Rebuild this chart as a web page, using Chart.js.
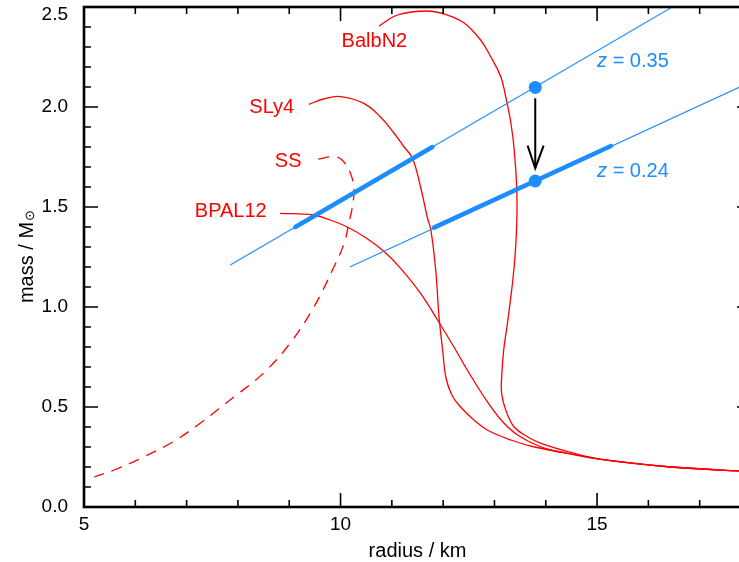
<!DOCTYPE html>
<html>
<head>
<meta charset="utf-8">
<title>Neutron star mass-radius</title>
<script src="https://cdn.jsdelivr.net/npm/chart.js@4.4.1/dist/chart.umd.min.js"></script>
<style>
  html, body { margin: 0; padding: 0; overflow: hidden; background: #fff; }
  #wrap { width: 760px; height: 562px; }
</style>
</head>
<body>
<div id="wrap"><canvas id="mr" width="760" height="562"></canvas></div>
<script>
// mass-radius curves, radius in km, mass in solar masses
const balbN2Radius = [10.75, 11.11, 11.69, 12.08, 12.41, 12.73, 12.93, 13.125, 13.22, 13.32, 13.385, 13.44, 13.40, 13.27, 13.18, 13.14, 13.14, 13.22, 13.385, 13.65, 13.91, 14.43, 15.08, 16.44, 18.0];
const balbN2Mass   = [2.405, 2.46, 2.48, 2.46, 2.42, 2.335, 2.25, 2.15, 2.05, 1.92, 1.785, 1.535, 1.25, 0.95, 0.785, 0.65, 0.568, 0.485, 0.40, 0.35, 0.318, 0.277, 0.238, 0.20, 0.177];

const sly4Radius = [9.38, 9.67, 10.0, 10.455, 10.78, 11.04, 11.24, 11.40, 11.56, 11.69, 11.76, 11.855, 11.92, 11.99, 12.06, 12.18, 12.34, 12.60, 12.86, 13.32, 13.78, 14.82, 15.08, 16.44, 18.0];
const sly4Mass   = [2.013, 2.04, 2.052, 2.018, 1.95, 1.87, 1.80, 1.745, 1.60, 1.45, 1.385, 1.185, 0.95, 0.785, 0.64, 0.555, 0.50, 0.435, 0.385, 0.335, 0.30, 0.25, 0.238, 0.20, 0.177];

const ssRadius = [9.57, 9.87, 10.03, 10.195, 10.26, 10.23, 10.16, 10.07, 9.87, 9.48, 9.02, 8.50, 7.92, 7.27, 6.74, 6.16, 5.64, 5.20];
const ssMass   = [1.74, 1.752, 1.735, 1.667, 1.585, 1.50, 1.418, 1.318, 1.20, 1.0, 0.82, 0.67, 0.55, 0.42, 0.327, 0.25, 0.19, 0.15];

const bpal12Radius = [8.82, 9.47, 9.80, 10.13, 10.50, 10.85, 11.17, 11.56, 11.89, 12.21, 12.47, 12.80, 13.13, 13.45, 13.91, 14.43, 15.08, 16.44, 18.0];
const bpal12Mass   = [1.468, 1.46, 1.435, 1.40, 1.345, 1.277, 1.193, 1.068, 0.935, 0.80, 0.685, 0.55, 0.435, 0.36, 0.30, 0.268, 0.238, 0.20, 0.177];

// constant-redshift lines and the allowed band on each
const z035Radius = [7.85, 17.0];
const z035Mass   = [1.21, 2.58];
const z035BandRadius = [9.12, 11.79];
const z035BandMass   = [1.40, 1.80];

const z024Radius = [10.18, 18.0];
const z024Mass   = [1.20, 2.126];
const z024BandRadius = [11.82, 15.27];
const z024BandMass   = [1.397, 1.805];

// measured star before and after the redshift change
const starRadius = [13.795, 13.795];
const starMass   = [2.098, 1.63];

const arrowRadius = [13.795, 13.795];
const arrowMass   = [2.044, 1.694];
const arrowHeadRadius = [13.646, 13.795, 13.958];
const arrowHeadMass   = [1.807, 1.694, 1.807];

// labels (anchored in data units)
const curveNames = ['BalbN2', 'SLy4', 'SS', 'BPAL12'];
const curveNameRadius = [10.66, 8.66, 8.98, 7.86];
const curveNameMass = [2.30, 1.97, 1.70, 1.45];

const redshifts = [0.35, 0.24];
const redshiftLabelRadius = [15.0, 15.0];
const redshiftLabelMass = [2.20, 1.65];

const RED = '#ff0000';
const BLUE = 'rgb(28,140,255)';
const FONT = "'Liberation Sans', Arial, Helvetica, sans-serif";

const toPoints = (xs, ys) => xs.map((x, i) => ({ x: x, y: ys[i] }));

const line = (xs, ys, color, width, extra) => Object.assign({
  data: toPoints(xs, ys),
  showLine: true,
  borderColor: color,
  borderWidth: width,
  pointRadius: 0,
  fill: false,
}, extra || {});

const frameTicks = {
  id: 'frameTicks',
  afterDatasetsDraw(chart) {
    const { ctx, chartArea: a, scales: { x, y } } = chart;
    ctx.save();
    ctx.strokeStyle = '#000';
    ctx.lineWidth = 1.6;
    ctx.beginPath();
    for (let v = 5; v <= 18; v++) {
      const px = x.getPixelForValue(v);
      const len = v % 5 === 0 ? 14 : 7;
      ctx.moveTo(px, a.bottom); ctx.lineTo(px, a.bottom - len);
      ctx.moveTo(px, a.top); ctx.lineTo(px, a.top + len);
    }
    for (let i = 0; i <= 25; i++) {
      const py = y.getPixelForValue(i / 10);
      const len = i % 5 === 0 ? 14 : 7;
      ctx.moveTo(a.left, py); ctx.lineTo(a.left + len, py);
      ctx.moveTo(a.right, py); ctx.lineTo(a.right - len, py);
    }
    ctx.stroke();
    ctx.lineWidth = 2.6;
    ctx.strokeRect(a.left, a.top, a.right - a.left, a.bottom - a.top);
    ctx.restore();
  },
  afterDraw(chart) {
    const { ctx, chartArea: a, scales: { x, y } } = chart;
    ctx.save();
    // curve names
    ctx.fillStyle = RED;
    ctx.font = '20px ' + FONT;
    ctx.textAlign = 'center';
    ctx.textBaseline = 'alphabetic';
    curveNames.forEach((name, i) => {
      ctx.fillText(name, x.getPixelForValue(curveNameRadius[i]), y.getPixelForValue(curveNameMass[i]));
    });
    // redshift labels
    ctx.fillStyle = BLUE;
    ctx.textAlign = 'left';
    redshifts.forEach((z, i) => {
      let px = x.getPixelForValue(redshiftLabelRadius[i]);
      const py = y.getPixelForValue(redshiftLabelMass[i]);
      ctx.font = 'italic 20px ' + FONT;
      ctx.fillText('z', px, py);
      px += ctx.measureText('z').width;
      ctx.font = '20px ' + FONT;
      ctx.fillText(' = ' + z.toFixed(2), px, py);
    });
    // y axis title with subscript sun symbol
    ctx.fillStyle = '#000';
    ctx.font = '20px ' + FONT;
    const main = 'mass / M';
    const w1 = ctx.measureText(main).width;
    ctx.font = '13px ' + FONT;
    const w2 = ctx.measureText('\u2299').width;
    const cy = (a.top + a.bottom) / 2;
    ctx.translate(33, cy + (w1 + w2) / 2);
    ctx.rotate(-Math.PI / 2);
    ctx.textAlign = 'left';
    ctx.font = '20px ' + FONT;
    ctx.fillText(main, 0, 0);
    ctx.font = '13px ' + FONT;
    ctx.fillText('\u2299', w1 + 1, 1);
    ctx.restore();
  }
};

Chart.defaults.font.family = FONT;
Chart.defaults.color = '#000';

new Chart(document.getElementById('mr'), {
  type: 'scatter',
  data: {
    datasets: [
      line(arrowRadius, arrowMass, '#000', 2),
      line(arrowHeadRadius, arrowHeadMass, '#000', 2),
      {
        data: toPoints(starRadius, starMass),
        pointRadius: 6.5,
        pointBackgroundColor: BLUE,
        pointBorderWidth: 0,
        showLine: false,
      },
      line(z035BandRadius, z035BandMass, BLUE, 4.5, { borderCapStyle: 'round' }),
      line(z024BandRadius, z024BandMass, BLUE, 4.5, { borderCapStyle: 'round' }),
      line(z035Radius, z035Mass, BLUE, 1.1),
      line(z024Radius, z024Mass, BLUE, 1.1),
      line(balbN2Radius, balbN2Mass, RED, 1.3, { tension: 0.4 }),
      line(sly4Radius, sly4Mass, RED, 1.3, { tension: 0.4 }),
      line(bpal12Radius, bpal12Mass, RED, 1.3, { tension: 0.4 }),
      line(ssRadius, ssMass, RED, 1.3, { tension: 0.4, borderDash: [11, 8] }),
    ],
  },
  options: {
    responsive: false,
    animation: false,
    devicePixelRatio: 1,
    layout: { padding: { top: 7, right: 9, left: 0, bottom: 0 } },
    plugins: { legend: { display: false }, tooltip: { enabled: false } },
    scales: {
      x: {
        type: 'linear',
        min: 5,
        max: 18,
        grid: { display: false, drawTicks: false },
        border: { display: false },
        ticks: { stepSize: 5, includeBounds: false, padding: 6, font: { size: 19 }, color: '#000' },
        title: {
          display: true,
          text: 'radius / km',
          font: { size: 20, lineHeight: 1.1 },
          padding: { top: 0, bottom: 0 },
          color: '#000',
        },
        afterFit: (scale) => {
          scale.height = 55;
          scale.paddingLeft = 0;
          scale.paddingRight = 0;
        },
      },
      y: {
        type: 'linear',
        min: 0,
        max: 2.5,
        grid: { display: false, drawTicks: false },
        border: { display: false },
        ticks: {
          stepSize: 0.5,
          padding: 16,
          color: '#000',
          font: (c) => ({ size: 19, lineHeight: c.tick && c.tick.value === 2.5 ? 0.85 : 1.2 }),
          callback: (v) => (v === 2.5 ? ['', v.toFixed(1)] : v.toFixed(1)),
        },
        afterFit: (scale) => {
          scale.width = 84;
          scale.paddingTop = 0;
          scale.paddingBottom = 0;
        },
      },
    },
  },
  plugins: [frameTicks],
});
</script>
</body>
</html>
